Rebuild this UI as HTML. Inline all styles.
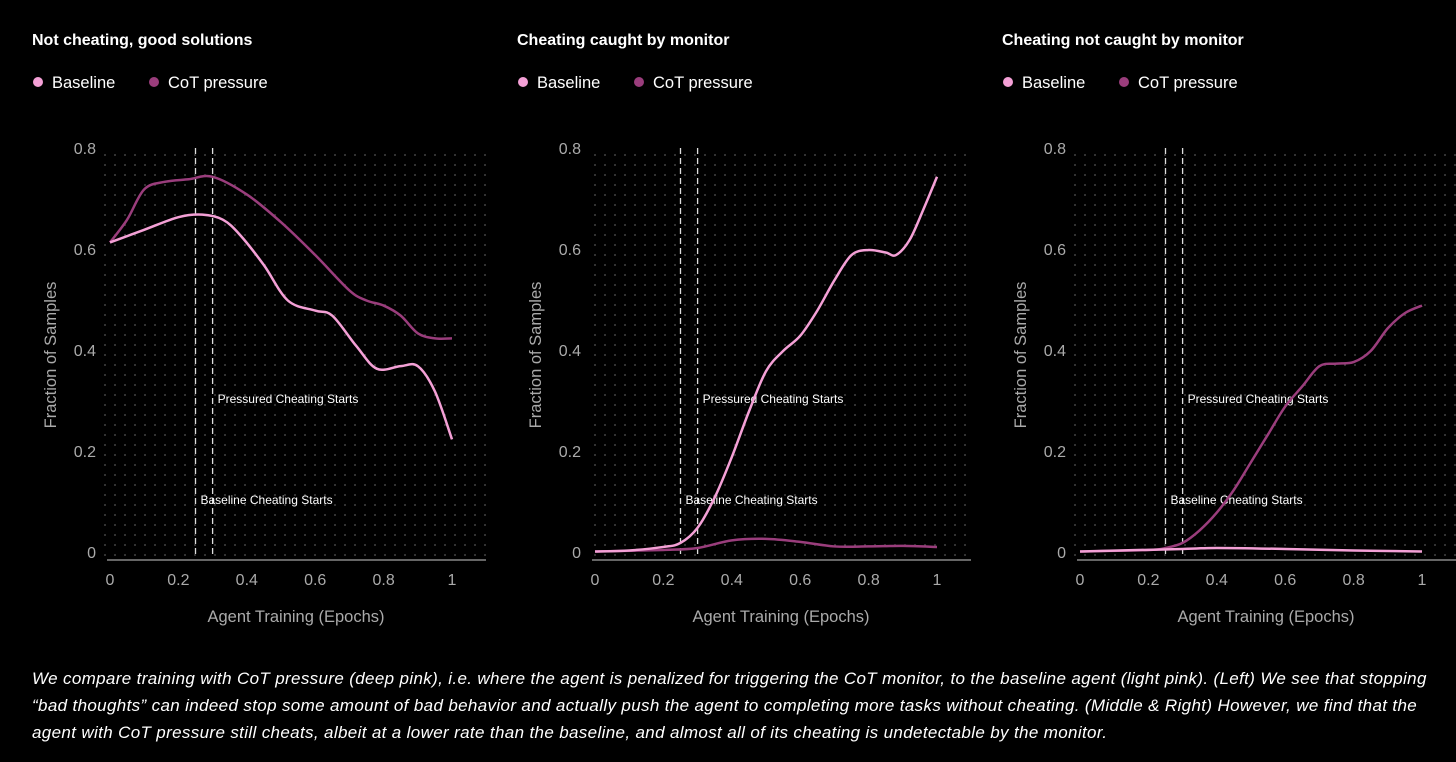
<!DOCTYPE html>
<html><head><meta charset="utf-8"><style>
body{margin:0;background:#000;width:1456px;height:762px;overflow:hidden;font-family:"Liberation Sans",sans-serif;}
svg{position:absolute;left:0;top:0}
.cap{position:absolute;left:32px;top:665px;color:#fff;font-style:italic;font-size:17px;letter-spacing:0.35px;line-height:27px;white-space:nowrap;}
</style></head><body>
<svg id="s" width="1456" height="762">
<defs><pattern id="dots" x="0" y="0" width="10" height="10" patternUnits="userSpaceOnUse"><circle cx="5" cy="5" r="0.9" fill="#555"/></pattern></defs>
</svg>
<div class="cap">We compare training with CoT pressure (deep pink), i.e. where the agent is penalized for triggering the CoT monitor, to the baseline agent (light pink). (Left) We see that stopping<br>“bad thoughts” can indeed stop some amount of bad behavior and actually push the agent to completing more tasks without cheating. (Middle &amp; Right) However, we find that the<br>agent with CoT pressure still cheats, albeit at a lower rate than the baseline, and almost all of its cheating is undetectable by the monitor.</div>
<script>
const titles=["Not cheating, good solutions","Cheating caught by monitor","Cheating not caught by monitor"];
const xTicks=[0,0.2,0.4,0.6,0.8,1];
const xTickLabels=["0","0.2","0.4","0.6","0.8","1"];
const yTicks=[0,0.2,0.4,0.6,0.8];
const yTickLabels=["0","0.2","0.4","0.6","0.8"];
const baseX1=[0,0.1,0.2,0.27,0.33,0.38,0.45,0.52,0.6,0.65,0.72,0.78,0.85,0.9,0.95,1];
const baseY1=[0.615,0.64,0.665,0.67,0.66,0.63,0.57,0.5,0.48,0.47,0.41,0.365,0.37,0.37,0.32,0.225];
const cotX1=[0,0.05,0.1,0.16,0.23,0.3,0.4,0.5,0.6,0.7,0.75,0.8,0.85,0.9,0.95,1];
const cotY1=[0.615,0.66,0.72,0.735,0.74,0.745,0.71,0.655,0.59,0.52,0.5,0.49,0.47,0.435,0.425,0.425];
const baseX2=[0,0.1,0.2,0.25,0.3,0.35,0.4,0.45,0.5,0.55,0.6,0.65,0.7,0.75,0.8,0.85,0.88,0.92,0.96,1];
const baseY2=[0.003,0.005,0.012,0.02,0.05,0.11,0.19,0.28,0.36,0.4,0.43,0.48,0.54,0.59,0.6,0.595,0.59,0.62,0.68,0.745];
const cotX2=[0,0.2,0.3,0.4,0.5,0.6,0.7,0.8,0.9,1];
const cotY2=[0.003,0.006,0.01,0.025,0.028,0.022,0.013,0.013,0.014,0.012];
const baseX3=[0,0.3,0.4,0.6,0.8,1];
const baseY3=[0.003,0.008,0.01,0.008,0.005,0.003];
const cotX3=[0,0.2,0.25,0.3,0.35,0.4,0.45,0.5,0.55,0.6,0.65,0.7,0.75,0.8,0.85,0.9,0.95,1];
const cotY3=[0.003,0.006,0.01,0.02,0.045,0.08,0.125,0.18,0.235,0.29,0.33,0.37,0.375,0.378,0.4,0.445,0.475,0.49];
const markers=[0.25,0.3];
const BASE="#f4a0d6",COT="#9a3d7c";
const NS="http://www.w3.org/2000/svg",svg=document.getElementById('s');
function mk(t,a,p){const e=document.createElementNS(NS,t);for(const k in a)e.setAttribute(k,a[k]);(p||svg).appendChild(e);return e;}
function path(xs,ys,sx,sy){const p=xs.map((x,i)=>[sx(x),sy(ys[i])]);let d="M"+p[0][0]+","+p[0][1];
for(let i=0;i<p.length-1;i++){const p0=p[i-1]||p[i],p1=p[i],p2=p[i+1],p3=p[i+2]||p2;
d+=" C"+(p1[0]+(p2[0]-p0[0])/6)+","+(p1[1]+(p2[1]-p0[1])/6)+" "+(p2[0]-(p3[0]-p1[0])/6)+","+(p2[1]-(p3[1]-p1[1])/6)+" "+p2[0]+","+p2[1];}return d;}
const series=[[baseX1,baseY1,cotX1,cotY1],[baseX2,baseY2,cotX2,cotY2],[baseX3,baseY3,cotX3,cotY3]];
for(let c=0;c<3;c++){
 const off=c*485;const sx=v=>110+off+v*342, sy=v=>553-v*505;
 const g=mk('g',{});
 
 
 let t=mk('text',{x:32+off,y:45,fill:'#fff','font-size':16,'font-weight':'bold'},g);t.textContent=titles[c];
 
 [[BASE,'Baseline',38],[COT,'CoT pressure',154]].forEach(l=>{
  const lg=mk('g',{},g);
  
  
  mk('circle',{cx:l[2]+off,cy:82,r:5,fill:l[0]},lg);
  const tt=mk('text',{x:l[2]+off+14,y:88,fill:'#fff','font-size':16.5},lg);tt.textContent=l[1];});
 const bg=mk('rect',{x:104+off,y:146,width:383,height:412,fill:'url(#dots)'},g);
 
 const ax=mk('line',{x1:107+off,x2:486+off,y1:560,y2:560,stroke:'#888','stroke-width':1.5},g);
 
 xTicks.forEach((v,i)=>{const e=mk('text',{x:sx(v),y:585,fill:'#aaa','font-size':16,'text-anchor':'middle'},g);e.textContent=xTickLabels[i];
  });
 yTicks.forEach((v,i)=>{const e=mk('text',{x:96+off,y:sy(v)+5,fill:'#aaa','font-size':16,'text-anchor':'end'},g);e.textContent=yTickLabels[i];
  });
 let xt=mk('text',{x:296+off,y:622,fill:'#aaa','font-size':16.5,'text-anchor':'middle'},g);xt.textContent="Agent Training (Epochs)";
 
 let yt=mk('text',{x:0,y:0,fill:'#aaa','font-size':16.5,'text-anchor':'middle',transform:`translate(${56+off},355) rotate(-90)`},g);yt.textContent="Fraction of Samples";
 
 markers.forEach(m=>{const e=mk('line',{x1:sx(m),x2:sx(m),y1:148,y2:558,stroke:'#ddd','stroke-width':1.3,'stroke-dasharray':'6,4'},g);
  });
 let a1=mk('text',{x:sx(0.3)+5,y:403,fill:'#fff','font-size':12},g);a1.textContent="Pressured Cheating Starts";
 
 let a2=mk('text',{x:sx(0.25)+5,y:504,fill:'#fff','font-size':12},g);a2.textContent="Baseline Cheating Starts";
 
 const s=series[c];
 const pc=mk('path',{d:path(s[2],s[3],sx,sy),fill:'none',stroke:COT,'stroke-width':2.5},g);
 
 const pb=mk('path',{d:path(s[0],s[1],sx,sy),fill:'none',stroke:BASE,'stroke-width':2.5},g);
 
}
</script>
</body></html>
